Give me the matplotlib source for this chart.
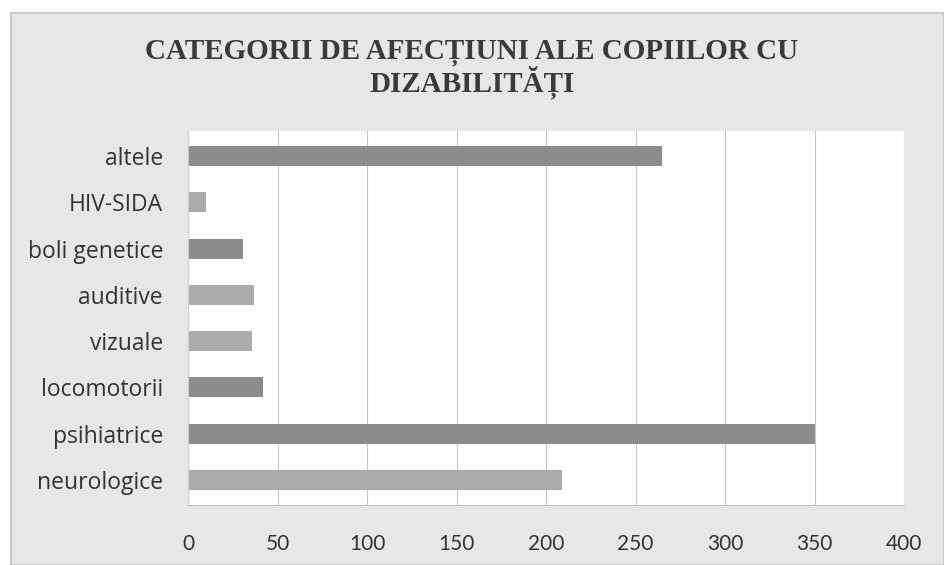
import matplotlib.pyplot as plt
from matplotlib.patches import Rectangle

# date
categorii = ['neurologice', 'psihiatrice', 'locomotorii', 'vizuale',
             'auditive', 'boli genetice', 'HIV-SIDA', 'altele']
valori = [209, 350, 42, 36, 37, 31, 10, 265]
nuante = ['#ababab', '#8c8c8c', '#8c8c8c', '#ababab',
          '#ababab', '#8c8c8c', '#ababab', '#8c8c8c']
ticks_x = [0, 50, 100, 150, 200, 250, 300, 350, 400]

fig = plt.figure(figsize=(9.44, 5.65), dpi=100, facecolor='white')
# fundalul gri al chenarului scanat
fig.patches.append(Rectangle((11 / 944, 0.0), 1 - 11 / 944, 1 - 13 / 565,
                             transform=fig.transFigure, facecolor='#e7e7e7',
                             edgecolor='#c4c4c4', lw=1.2, zorder=-5))

ax = fig.add_axes([188 / 944, 1 - 505 / 565, (904 - 188) / 944, (505 - 131) / 565])
ax.set_facecolor('white')

ax.barh(categorii, valori, height=0.43, color=nuante)
ax.set_xlim(0, 400)
ax.set_ylim(-0.54, 7.54)
ax.set_xticks(ticks_x)
ax.grid(axis='x', color='#c6c6c6', lw=0.8)
ax.set_axisbelow(True)

for s in ['top', 'right']:
    ax.spines[s].set_visible(False)
ax.spines['left'].set_color('#d0d0d0')
ax.spines['bottom'].set_color('#c0c0c0')
ax.tick_params(length=0, colors='#333333')
ax.tick_params(axis='x', pad=21, labelsize=15)
ax.tick_params(axis='y', pad=18, labelsize=16.5)
for lbl in ax.get_xticklabels():
    lbl.set_fontfamily('Lato')
for lbl in ax.get_yticklabels():
    lbl.set_fontfamily('Open Sans')

fig.text(0.5, 0.878, 'CATEGORII DE AFECȚIUNI ALE COPIILOR CU\nDIZABILITĂȚI',
         ha='center', va='center', fontsize=21, fontweight='bold',
         family='Liberation Serif', color='#3a3a3a', linespacing=0.98)

fig.savefig('out.png', dpi=100, facecolor=fig.get_facecolor())
